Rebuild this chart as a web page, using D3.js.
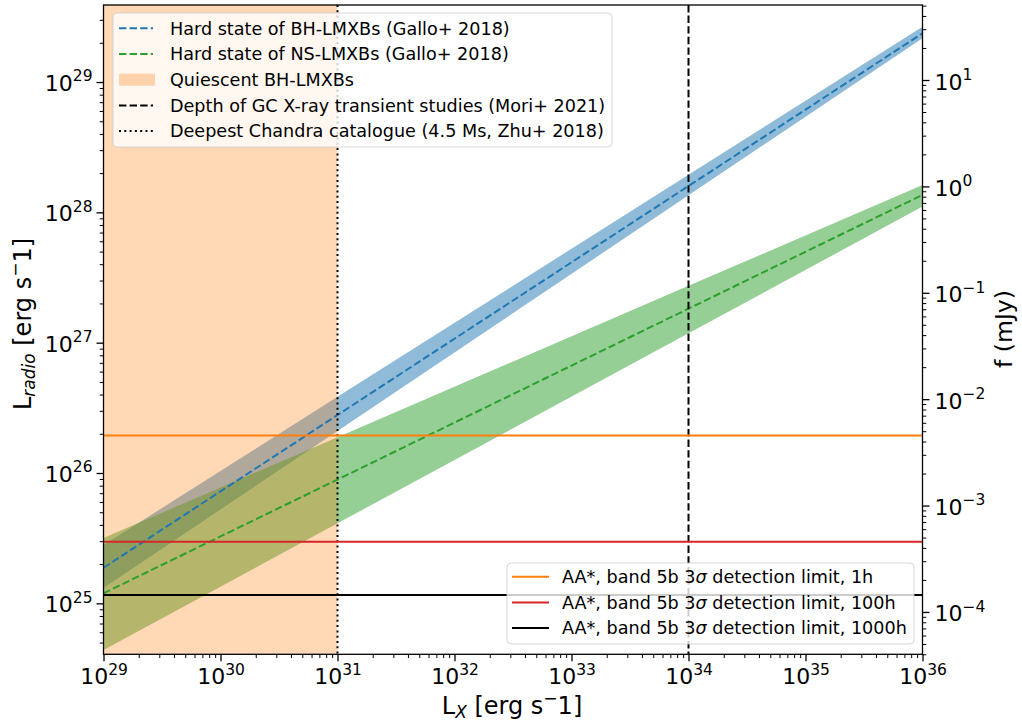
<!DOCTYPE html>
<html>
<head>
<meta charset="utf-8">
<script src="https://cdn.jsdelivr.net/npm/d3@7"></script>
<style>
  body { margin: 0; background: #fff; }
  svg text { font-family: "DejaVu Sans", sans-serif; fill: #000; }
</style>
</head>
<body>
<div id="chart"></div>
<script>
// ---- data ----
const lxPoints = [1e29, 1e31, 1e34, 1e36];

// BH-LMXB hard state (Gallo+ 2018): central line and band edges
const bhMid = [1.875e25, 2.786e26, 1.592e28, 2.366e29];
const bhHi  = [2.80e25, 3.84e26, 1.945e28, 2.66e29];
const bhLo  = [1.309e25, 2.099e26, 1.352e28, 2.168e29];

// NS-LMXB hard state (Gallo+ 2018)
const nsMid = [1.194e25, 8.91e25, 1.824e27, 1.361e28];
const nsHi  = [3.17e25, 1.884e26, 2.729e27, 1.622e28];
const nsLo  = [4.385e24, 4.11e25, 1.18e27, 1.107e28];

// quiescent BH-LMXBs span in L_X
const quiescentSpan = [1e29, 1e31];

// vertical markers in L_X
const vLines = [
  { lx: 1e34, dash: "dashed", label: "Depth of GC X-ray transient studies (Mori+ 2021)" },
  { lx: 1e31, dash: "dotted", label: "Deepest Chandra catalogue (4.5 Ms, Zhu+ 2018)" }
];

// AA* band 5b detection limits (L_radio)
const limitValues = [1.944e26, 2.97e25, 1.158e25];
const limitHours  = ["1h", "100h", "1000h"];
const limitColors = ["#ff7f0e", "#d62728", "#000000"];

// tick exponents
const xTickExps = [29, 30, 31, 32, 33, 34, 35, 36];
const yTickExps = [25, 26, 27, 28, 29];
const fTickExps = [-4, -3, -2, -1, 0, 1];

// ---- layout ----
const W = 1022, H = 722;
const plot = { left: 103.5, right: 922.5, top: 5, bottom: 654.3 };
const legendFont = "17.6px";

const svg = d3.select("#chart").append("svg")
    .attr("width", W)
    .attr("height", H);

const x = d3.scaleLog()
    .domain([1e29, 1e36])
    .range([plot.left, plot.right]);

const y = d3.scaleLog()
    .domain([Math.pow(10, 24.609), Math.pow(10, 29.591)])
    .range([plot.bottom, plot.top]);

const yf = d3.scaleLog()
    .domain([Math.pow(10, -4.398), Math.pow(10, 1.705)])
    .range([plot.bottom, plot.top]);

svg.append("defs").append("clipPath").attr("id", "clip")
    .append("rect")
    .attr("x", plot.left).attr("y", plot.top)
    .attr("width", plot.right - plot.left)
    .attr("height", plot.bottom - plot.top);

const g = svg.append("g").attr("clip-path", "url(#clip)");

// bands
const area = d3.area()
    .x(d => x(d.lx))
    .y0(d => y(d.lo))
    .y1(d => y(d.hi));

function bandData(lo, hi) {
    return lxPoints.map((lx, i) => ({ lx: lx, lo: lo[i], hi: hi[i] }));
}

g.append("path")
    .datum(bandData(bhLo, bhHi))
    .attr("d", area)
    .attr("fill", "#1f77b4")
    .attr("fill-opacity", 0.5);

g.append("path")
    .datum(bandData(nsLo, nsHi))
    .attr("d", area)
    .attr("fill", "#2ca02c")
    .attr("fill-opacity", 0.5);

// quiescent span
g.append("rect")
    .attr("x", x(quiescentSpan[0]))
    .attr("width", x(quiescentSpan[1]) - x(quiescentSpan[0]))
    .attr("y", plot.top)
    .attr("height", plot.bottom - plot.top)
    .attr("fill", "#ff7f0e")
    .attr("fill-opacity", 0.3);

// central dashed lines
const line = d3.line()
    .x(d => x(d.lx))
    .y(d => y(d.v));

g.append("path")
    .datum(lxPoints.map((lx, i) => ({ lx: lx, v: bhMid[i] })))
    .attr("d", line)
    .attr("fill", "none")
    .attr("stroke", "#1f77b4")
    .attr("stroke-width", 2)
    .attr("stroke-dasharray", "7.4,3.2");

g.append("path")
    .datum(lxPoints.map((lx, i) => ({ lx: lx, v: nsMid[i] })))
    .attr("d", line)
    .attr("fill", "none")
    .attr("stroke", "#2ca02c")
    .attr("stroke-width", 2)
    .attr("stroke-dasharray", "7.4,3.2");

// vertical lines
const dashes = { dashed: "7.4,3.2", dotted: "2,3.3" };
g.selectAll(".vline")
    .data(vLines)
    .enter().append("line")
    .attr("class", "vline")
    .attr("x1", d => x(d.lx)).attr("x2", d => x(d.lx))
    .attr("y1", plot.top).attr("y2", plot.bottom)
    .attr("stroke", "#000")
    .attr("stroke-width", 2)
    .attr("stroke-dasharray", d => dashes[d.dash]);

// horizontal detection limits
g.selectAll(".hline")
    .data(limitValues)
    .enter().append("line")
    .attr("class", "hline")
    .attr("x1", plot.left).attr("x2", plot.right)
    .attr("y1", d => y(d)).attr("y2", d => y(d))
    .attr("stroke", (d, i) => limitColors[i])
    .attr("stroke-width", 2);

// ---- axes ----
function minorTicks(scale) {
    const dom = scale.domain();
    const lo = Math.floor(Math.log10(dom[0])), hi = Math.ceil(Math.log10(dom[1]));
    const out = [];
    for (let e = lo; e <= hi; e++) {
        for (let m = 2; m <= 9; m++) {
            const v = m * Math.pow(10, e);
            if (v >= dom[0] && v <= dom[1]) out.push(v);
        }
    }
    return out;
}

function sciLabel(sel, exps) {
    sel.each(function (d, i) {
        const t = d3.select(this);
        const e = exps[i];
        t.text(null);
        t.append("tspan").text("10");
        t.append("tspan")
            .attr("dy", "-0.62em")
            .attr("font-size", "15.5px")
            .text(e < 0 ? "\u2212" + (-e) : String(e));
    });
}

function styleAxis(a) {
    a.select(".domain").remove();
    a.selectAll("line").attr("stroke", "#000").attr("stroke-width", 1.3);
    a.selectAll("text").attr("font-size", "22px").attr("font-family", "DejaVu Sans");
}

// bottom
const xMinor = svg.append("g")
    .attr("transform", `translate(0,${plot.bottom})`)
    .call(d3.axisBottom(x).tickValues(minorTicks(x)).tickSize(3.8).tickFormat(""));
styleAxis(xMinor);
xMinor.selectAll("line").attr("stroke-width", 1);

const xMajor = svg.append("g")
    .attr("transform", `translate(0,${plot.bottom})`)
    .call(d3.axisBottom(x).tickValues(xTickExps.map(e => Math.pow(10, e))).tickSize(7).tickPadding(4));
styleAxis(xMajor);
xMajor.selectAll("text").attr("dy", null).attr("y", 30);
sciLabel(xMajor.selectAll("text"), xTickExps);

// left
const yMinor = svg.append("g")
    .attr("transform", `translate(${plot.left},0)`)
    .call(d3.axisLeft(y).tickValues(minorTicks(y)).tickSize(3.8).tickFormat(""));
styleAxis(yMinor);
yMinor.selectAll("line").attr("stroke-width", 1);

const yMajor = svg.append("g")
    .attr("transform", `translate(${plot.left},0)`)
    .call(d3.axisLeft(y).tickValues(yTickExps.map(e => Math.pow(10, e))).tickSize(7).tickPadding(5));
styleAxis(yMajor);
yMajor.selectAll("text").attr("dy", null).attr("y", 8.5).attr("x", -11);
sciLabel(yMajor.selectAll("text"), yTickExps);

// right
const fMinor = svg.append("g")
    .attr("transform", `translate(${plot.right},0)`)
    .call(d3.axisRight(yf).tickValues(minorTicks(yf)).tickSize(3.8).tickFormat(""));
styleAxis(fMinor);
fMinor.selectAll("line").attr("stroke-width", 1);

const fMajor = svg.append("g")
    .attr("transform", `translate(${plot.right},0)`)
    .call(d3.axisRight(yf).tickValues(fTickExps.map(e => Math.pow(10, e))).tickSize(7).tickPadding(5));
styleAxis(fMajor);
fMajor.selectAll("text").attr("dy", null).attr("y", 9).attr("x", 12);
sciLabel(fMajor.selectAll("text"), fTickExps);

// frame
svg.append("rect")
    .attr("x", plot.left).attr("y", plot.top)
    .attr("width", plot.right - plot.left)
    .attr("height", plot.bottom - plot.top)
    .attr("fill", "none")
    .attr("stroke", "#000")
    .attr("stroke-width", 1.3);

// axis labels
function unitLabel(t, sub) {
    t.append("tspan").text("L");
    t.append("tspan").attr("font-size", "17px").attr("font-style", "italic").attr("dy", "4").text(sub);
    t.append("tspan").attr("dy", "-4").text(" [erg s");
    t.append("tspan").attr("font-size", "17px").attr("dy", "-10").text("\u2212");
    t.append("tspan").attr("dy", "10").text("1]");
}

const xl = svg.append("text")
    .attr("x", 512).attr("y", 714)
    .attr("text-anchor", "middle")
    .attr("font-size", "24px");
unitLabel(xl, "X");

const yl = svg.append("text")
    .attr("transform", "translate(31,324) rotate(-90)")
    .attr("text-anchor", "middle")
    .attr("font-size", "24px");
unitLabel(yl, "radio");

svg.append("text")
    .attr("transform", "translate(1012,329) rotate(-90)")
    .attr("text-anchor", "middle")
    .attr("font-size", "23.5px")
    .text("f (mJy)");

// ---- legends ----
function legendBox(x0, y0, w, h) {
    svg.append("rect")
        .attr("x", x0).attr("y", y0)
        .attr("width", w).attr("height", h)
        .attr("rx", 4).attr("ry", 4)
        .attr("fill", "#fff").attr("fill-opacity", 0.8)
        .attr("stroke", "#cccccc").attr("stroke-opacity", 0.8)
        .attr("stroke-width", 1);
}

const legend1 = [
    { type: "line", color: "#1f77b4", dash: dashes.dashed, label: "Hard state of BH-LMXBs (Gallo+ 2018)" },
    { type: "line", color: "#2ca02c", dash: dashes.dashed, label: "Hard state of NS-LMXBs (Gallo+ 2018)" },
    { type: "patch", color: "#ff7f0e", label: "Quiescent BH-LMXBs" },
    { type: "line", color: "#000", dash: dashes[vLines[0].dash], label: vLines[0].label },
    { type: "line", color: "#000", dash: dashes[vLines[1].dash], label: vLines[1].label }
];

legendBox(113, 13, 499, 134);
const l1 = svg.append("g");
legend1.forEach((d, i) => {
    const cy = 28.3 + i * 25.7;
    if (d.type === "patch") {
        l1.append("rect").attr("x", 119).attr("y", cy - 6).attr("width", 36).attr("height", 12)
            .attr("fill", d.color).attr("fill-opacity", 0.3);
    } else {
        l1.append("line").attr("x1", 119).attr("x2", 153).attr("y1", cy).attr("y2", cy)
            .attr("stroke", d.color).attr("stroke-width", 2).attr("stroke-dasharray", d.dash);
    }
    l1.append("text").attr("x", 170).attr("y", cy + 6.3).attr("font-size", legendFont).text(d.label);
});

legendBox(507, 563, 407, 81);
const l2 = svg.append("g");
limitValues.forEach((v, i) => {
    const cy = 576.7 + i * 25.7;
    l2.append("line").attr("x1", 512).attr("x2", 549).attr("y1", cy).attr("y2", cy)
        .attr("stroke", limitColors[i]).attr("stroke-width", 2);
    const t = l2.append("text").attr("x", 562).attr("y", cy + 6.3).attr("font-size", legendFont);
    t.append("tspan").text("AA*, band 5b 3");
    t.append("tspan").attr("font-style", "italic").text("\u03c3");
    t.append("tspan").text(" detection limit, " + limitHours[i]);
});
</script>
</body>
</html>
